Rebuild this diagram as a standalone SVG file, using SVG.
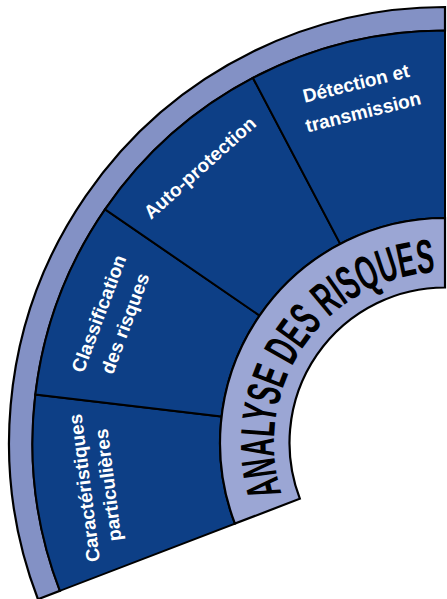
<svg xmlns="http://www.w3.org/2000/svg" width="447" height="599" viewBox="0 0 447 599">
<style>
.ring{fill:#8391c5;stroke:#000;stroke-width:2.2;stroke-linejoin:miter}
.seg{fill:#0d3f86;stroke:#000;stroke-width:2;stroke-linejoin:miter}
.core{fill:#9ba6d4;stroke:#000;stroke-width:2.2;stroke-linejoin:miter}
.lbl{font-family:"Liberation Sans",Arial,sans-serif;font-weight:bold;font-size:19px;fill:#fff;text-anchor:middle}
.title{font-family:"Liberation Sans",Arial,sans-serif;font-weight:bold;font-size:48px;fill:#000}
</style>
<defs>
<path id="arcText" d="M 281.65 493.57 A 171 171 0 0 1 435.45 272.27"/>
</defs>
<rect width="447" height="599" fill="#fff"/>
<g id="outer-ring">
<path class="ring" d="M 37.96 599.25 A 436 436 0 0 1 445 7 L 445 30.5 A 412.5 412.5 0 0 0 59.9 590.83 Z"/>
</g>
<g id="seg-caracteristiques">
<path class="seg" d="M 59.9 590.83 A 412.5 412.5 0 0 1 35.36 394.51 L 221.56 416.55 A 225 225 0 0 0 234.94 523.63 Z"/>
<text class="lbl" transform="translate(90.74 487.13) rotate(-97.1)">Caractéristiques</text>
<text class="lbl" transform="translate(114.55 484.16) rotate(-97.1)">particulières</text>
</g>
<g id="seg-classification">
<path class="seg" d="M 35.36 394.51 A 412.5 412.5 0 0 1 105.05 209.36 L 259.57 315.56 A 225 225 0 0 0 221.56 416.55 Z"/>
<text class="lbl" transform="translate(104.99 315.87) rotate(-69.5)">Classification</text>
<text class="lbl" transform="translate(131.22 325.68) rotate(-69.5)">des risques</text>
</g>
<g id="seg-autoprotection">
<path class="seg" d="M 105.05 209.36 A 412.5 412.5 0 0 1 252.94 77.94 L 340.24 243.88 A 225 225 0 0 0 259.57 315.56 Z"/>
<text class="lbl" transform="translate(204.19 172.72) rotate(-41.7)">Auto-protection</text>
</g>
<g id="seg-detection">
<path class="seg" d="M 252.94 77.94 A 412.5 412.5 0 0 1 445 30.5 L 445 218 A 225 225 0 0 0 340.24 243.88 Z"/>
<text class="lbl" transform="translate(357.56 89.66) rotate(-13.9)">Détection et</text>
<text class="lbl" transform="translate(364.64 118.29) rotate(-13.9)">transmission</text>
</g>
<g id="analyse-des-risques">
<path class="core" d="M 234.94 523.63 A 225 225 0 0 1 445 218 L 445 287.5 A 155.5 155.5 0 0 0 299.83 498.73 Z"/>
<text class="title"><textPath href="#arcText" textLength="310" lengthAdjust="spacingAndGlyphs">ANALYSE DES RISQUES</textPath></text>
</g>
<g id="connectors"></g>
</svg>
